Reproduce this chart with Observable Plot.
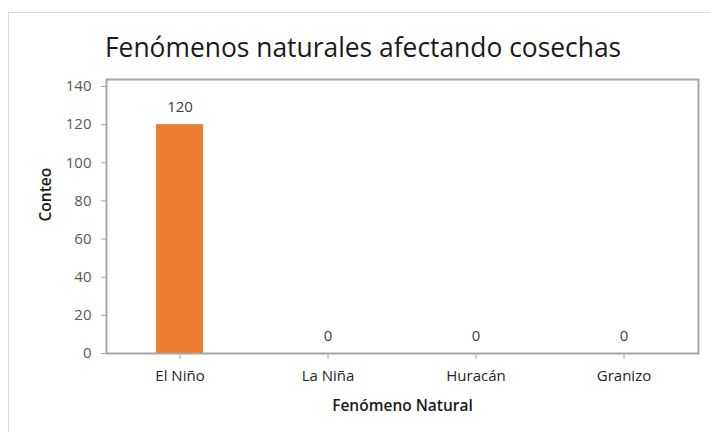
<!DOCTYPE html>
<html>
<head>
<meta charset="utf-8">
<script src="https://cdn.jsdelivr.net/npm/d3@7"></script>
<script src="https://cdn.jsdelivr.net/npm/@observablehq/plot@0.6"></script>
<style>
  html, body { margin: 0; padding: 0; background: #fff; }
  #wrap { position: relative; width: 710px; height: 432px; overflow: hidden; font-family: "Open Sans", sans-serif; }
  #outer { position: absolute; left: 8px; top: 12px; width: 760px; height: 480px; border: 1px solid #d9d9d9; box-sizing: border-box; }
  #title { position: absolute; left: 0; width: 710px; top: 27px; text-align: left; padding-left: 105px; box-sizing: border-box; font-size: 26.4px; color: #1a1a1a; white-space: nowrap; line-height: 40px; }
  #chart { position: absolute; left: 0; top: 0; }
</style>
</head>
<body>
<div id="wrap">
  <div id="outer"></div>
  <div id="chart"></div>
  <div id="title">Fenómenos naturales afectando cosechas</div>
</div>
<script>
const categories = ["El Niño", "La Niña", "Huracán", "Granizo"];
const counts = [120, 0, 0, 0];
const yTicks = [0, 20, 40, 60, 80, 100, 120, 140];
const xTitle = "Fenómeno Natural";
const yTitle = "Conteo";

const data = categories.map((c, i) => ({category: c, count: counts[i]}));

const chart = Plot.plot({
  width: 710,
  height: 432,
  marginLeft: 106,
  marginRight: 12,
  marginTop: 79,
  marginBottom: 79,
  style: {fontFamily: "Open Sans, sans-serif", background: "transparent", overflow: "visible"},
  x: {domain: categories, paddingInner: 0.68, paddingOuter: 0.34, label: null},
  y: {domain: [0, 140], insetTop: 7, label: null},
  marks: [
    Plot.barY(data, {x: "category", y: "count", fill: "#ED7D31"}),
    Plot.frame({stroke: "#a6a6a6", strokeWidth: 2}),
    Plot.axisY({ticks: yTicks, tickSize: 5, tickPadding: 10, fontSize: 15, color: "#595959", stroke: "#a6a6a6", label: null}),
    Plot.axisX({tickSize: 6, tickPadding: 11, fontSize: 15, color: "#262626", stroke: "#a6a6a6", label: null}),
    Plot.text(data, {x: "category", y: "count", text: d => String(d.count), dy: -17, fontSize: 15, fill: "#404040"}),
    Plot.text([yTitle], {frameAnchor: "left", dx: -60, dy: 5, rotate: -90, fontSize: 15.5, fontWeight: 600, fill: "#1a1a1a"}),
    Plot.text([xTitle], {frameAnchor: "bottom", dy: 57, fontSize: 15.5, fontWeight: 600, fill: "#1a1a1a"})
  ]
});
document.getElementById("chart").appendChild(chart);
</script>
</body>
</html>
